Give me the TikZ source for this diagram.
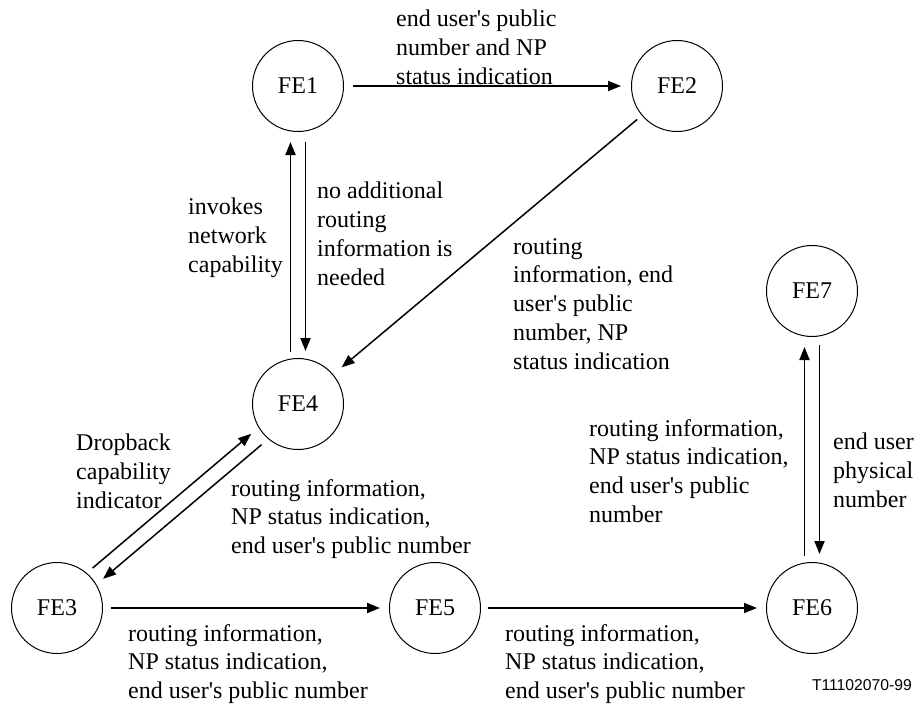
\documentclass[tikz,border=0pt]{standalone}
\usepackage{fontspec}
\setmainfont{Liberation Serif}
\newfontfamily\tagfont{Liberation Sans}
\newcommand\qs{\textquotesingle}
\usetikzlibrary{arrows.meta,calc}
\begin{document}
\begin{tikzpicture}[x=1pt,y=-1pt,
  fe/.style={circle,draw,line width=1pt,minimum size=91pt,inner sep=0pt,font=\fontsize{24}{28.8}\selectfont},
  msg/.style={line width=1.9pt,-{Triangle[length=13pt,width=10pt]}},
  dmsg/.style={msg,line width=1.5pt},
  lbl/.style={anchor=north west,inner sep=0pt,align=left,font=\fontsize{24}{28.8}\selectfont}]
\useasboundingbox (0,0) rectangle (916,704);

\node[fe] (FE1) at (298,86) {FE1};
\node[fe] (FE2) at (677,86) {FE2};
\node[fe] (FE7) at (812,291) {FE7};
\node[fe] (FE4) at (298,404) {FE4};
\node[fe] (FE3) at (57,608) {FE3};
\node[fe] (FE5) at (435,608) {FE5};
\node[fe] (FE6) at (812,608) {FE6};

% single arrows
\draw[msg,shorten <=9pt,shorten >=10pt] (FE1) -- (FE2);
\draw[dmsg,shorten <=6pt,shorten >=11pt] (FE2) -- (FE4);
\draw[msg,shorten <=8pt,shorten >=9pt] (FE3) -- (FE5);
\draw[msg,shorten <=7pt,shorten >=9pt] (FE5) -- (FE6);

% FE4 <-> FE1
\draw[msg] ($(FE4)!52pt!(FE1)!7.5pt!90:(FE1)$) -- ($(FE1)!56pt!(FE4)!7.5pt!-90:(FE4)$);
\draw[msg] ($(FE1)!56pt!(FE4)!7.5pt!90:(FE4)$) -- ($(FE4)!53pt!(FE1)!7.5pt!-90:(FE1)$);

% FE6 <-> FE7
\draw[msg] ($(FE6)!52pt!(FE7)!7.5pt!90:(FE7)$) -- ($(FE7)!56pt!(FE6)!7.5pt!-90:(FE6)$);
\draw[msg] ($(FE7)!54pt!(FE6)!7.5pt!90:(FE6)$) -- ($(FE6)!54pt!(FE7)!7.5pt!-90:(FE7)$);

% FE3 <-> FE4
\draw[dmsg] ($(FE3)!53pt!(FE4)!7.5pt!90:(FE4)$) -- ($(FE4)!55pt!(FE3)!7.5pt!-90:(FE3)$);
\draw[dmsg] ($(FE4)!54pt!(FE3)!7.5pt!90:(FE3)$) -- ($(FE3)!54pt!(FE4)!7.5pt!-90:(FE4)$);

% labels
\node[lbl] (l1) at (396,10) {end user\qs s public\\number and NP\\status indication};
\node[lbl] (l2) at (188,198) {invokes\\network\\capability};
\node[lbl] (l3) at (317,182) {no additional\\routing\\information is\\needed};
\node[lbl] (l4) at (513,238) {routing\\information, end\\user\qs s public\\number, NP\\status indication};
\node[lbl] (l5) at (76,434) {Dropback\\capability\\indicator};
\node[lbl] (l6) at (231,479) {routing information,\\NP status indication,\\end user\qs s public number};
\node[lbl] (l7) at (128,624) {routing information,\\NP status indication,\\end user\qs s public number};
\node[lbl] (l8) at (505,624) {routing information,\\NP status indication,\\end user\qs s public number};
\node[lbl] (l9) at (589,419) {routing information,\\NP status indication,\\end user\qs s public\\number};
\node[lbl] (l10) at (833,433) {end user\\physical\\number};
\node[anchor=east,inner sep=0pt,font=\tagfont\fontsize{15.7}{18}\selectfont] (tag) at (912,685) {T11102070-99};
\end{tikzpicture}
\end{document}
